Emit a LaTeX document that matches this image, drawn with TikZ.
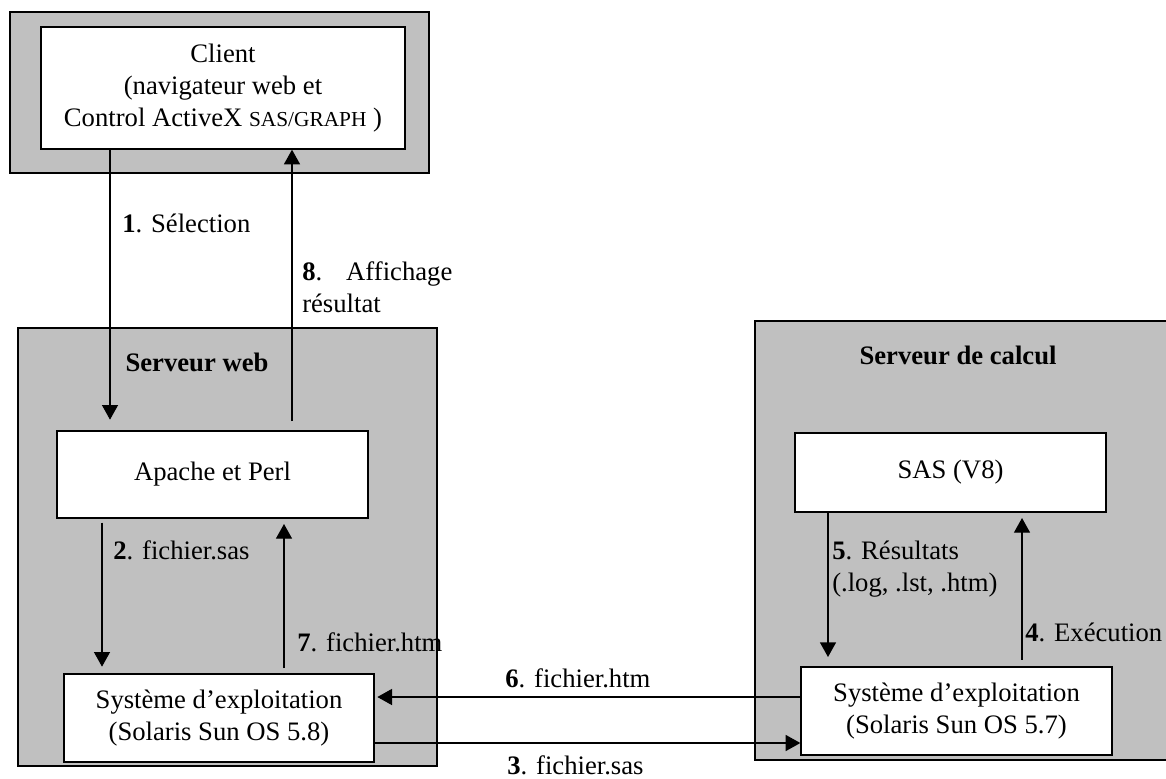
\documentclass[tikz,border=0pt]{standalone}
\usepackage{fontspec}
\setmainfont{Liberation Serif}
\usetikzlibrary{arrows.meta}
\definecolor{boxgrey}{HTML}{C0C0C0}
\tikzset{
	outer/.style={draw, line width=1pt, fill=boxgrey, inner sep=0pt},
	box/.style={draw, line width=1pt, fill=white, align=center, inner sep=0pt, font=\fontsize{20}{24}\selectfont},
	flow/.style={line width=1pt, -{Triangle[length=11pt,width=12pt]}},
	lbl/.style={inner sep=0pt, anchor=west, align=left, font=\fontsize{20}{24}\selectfont},
	title/.style={inner sep=0pt, font=\fontsize{20}{24}\selectfont\bfseries}
}

\begin{document}
\begin{tikzpicture}[x=0.75pt,y=-0.75pt]
	\useasboundingbox (0,0) rectangle (1166,778);
	\clip (0,0) rectangle (1166,778);

	%grey frames
	\node[outer, minimum width=314.25pt, minimum height=120.75pt] (clientbg) at (219.5,92.5) {};
	\node[outer, minimum width=314.25pt, minimum height=328.5pt] (webbg) at (227.5,547) {};
	\node[outer, minimum width=318.75pt, minimum height=329.25pt] (calcbg) at (967.5,540.5) {};

	%titles
	\node[title] (webtitle) at (197,362) {Serveur web};
	\node[title] (calctitle) at (958,355) {Serveur de calcul};

	%white boxes
	\node[box, minimum width=273pt, minimum height=91.5pt] (client) at (223,88)
		{Client\\(navigateur web et\\Control ActiveX {\fontsize{16}{24}\selectfont SAS/GRAPH} )};
	\node[box, minimum width=233.25pt, minimum height=65.25pt] (apache) at (212.5,474.5) {Apache et Perl};
	\node[box, minimum width=232.5pt, minimum height=66pt] (osweb) at (219,718)
		{Système d’exploitation\\(Solaris Sun OS 5.8)};
	\node[box, minimum width=233.25pt, minimum height=59.25pt] (sas) at (950.5,472.5) {SAS (V8)};
	\node[box, minimum width=233.25pt, minimum height=66pt] (oscalc) at (956.5,711)
		{Système d’exploitation\\(Solaris Sun OS 5.7)};

	%client <-> web server
	\draw[flow, shorten >=8pt] (client.south -| 110,0) -- (apache.north -| 110,0);
	\draw[flow, shorten <=7pt] (apache.north -| 292,0) -- (client.south -| 292,0);
	%inside web server
	\draw[flow, shorten <=3pt, shorten >=5pt] (apache.south -| 102,0) -- (osweb.north -| 102,0);
	\draw[flow, shorten <=4pt, shorten >=4pt] (osweb.north -| 284,0) -- (apache.south -| 284,0);
	%inside calc server
	\draw[flow, shorten >=7pt] (sas.south -| 828,0) -- (oscalc.north -| 828,0);
	\draw[flow, shorten <=5pt, shorten >=4pt] (oscalc.north -| 1022,0) -- (sas.south -| 1022,0);
	%between servers
	\draw[flow, shorten >=2pt] (oscalc.west |- 0,697) -- (osweb.east |- 0,697);
	\draw[flow] (osweb.east |- 0,743) -- (oscalc.west |- 0,743);

	%labels
	\node[lbl] (l1) at (122,223) {\textbf{1}. Sélection};
	\node[lbl, anchor=north west] (l8) at (302,261) {\textbf{8}.\hspace{0.9em}Affichage\\résultat};
	\node[lbl] (l2) at (113,550) {\textbf{2}. fichier.sas};
	\node[lbl] (l7) at (297,642) {\textbf{7}. fichier.htm};
	\node[lbl, anchor=north west] (l5) at (832,541) {\textbf{5}. Résultats\\(.log, .lst, .htm)};
	\node[lbl] (l4) at (1025,632) {\textbf{4}. Exécution};
	\node[lbl] (l6) at (505,678) {\textbf{6}. fichier.htm};
	\node[lbl] (l3) at (507,765) {\textbf{3}. fichier.sas};
\end{tikzpicture}
\end{document}
